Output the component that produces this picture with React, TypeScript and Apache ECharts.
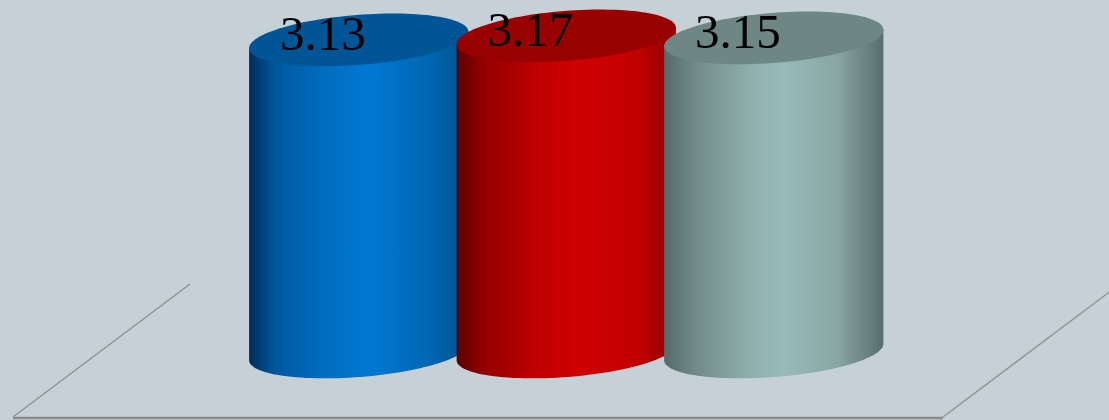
import React, { useEffect, useRef } from "react";
import * as echarts from "echarts";

const categories = ["A", "B", "C"];
const values = [3.13, 3.17, 3.15];
const sideStops = [
  [
    [0, "#002d58"],
    [0.12, "#0058a0"],
    [0.35, "#006ec0"],
    [0.55, "#0078d2"],
    [0.82, "#0067b2"],
    [1, "#00528c"],
  ],
  [
    [0, "#5c0000"],
    [0.12, "#940000"],
    [0.35, "#bc0000"],
    [0.55, "#d00000"],
    [0.82, "#c20000"],
    [1, "#8e0000"],
  ],
  [
    [0, "#556a69"],
    [0.15, "#728c8a"],
    [0.4, "#8fb0ae"],
    [0.55, "#98bbb9"],
    [0.8, "#86a4a2"],
    [1, "#586d6b"],
  ],
];
const topColors = ["#005596", "#990000", "#6c8784"];

const TILT = (4.5 * Math.PI) / 180;

function ellipsePt(cx: number, cy: number, rx: number, ry: number, t: number) {
  const x = rx * Math.cos(t);
  const y = ry * Math.sin(t);
  return [
    cx + x * Math.cos(TILT) + y * Math.sin(TILT),
    cy - x * Math.sin(TILT) + y * Math.cos(TILT),
  ];
}

export default function App() {
  const ref = useRef<HTMLDivElement>(null);
  useEffect(() => {
    if (!ref.current) return;
    const chart = echarts.init(ref.current, null, { renderer: "svg" });
    const option: any = {
      animation: false,
      backgroundColor: "#c6d1d7",
      grid: { left: 255, right: 231.5, top: 3, bottom: 68 },
      xAxis: { type: "category", data: categories, show: false },
      yAxis: { type: "value", min: 0, max: 3.5, show: false },
      graphic: [
        {
          type: "line",
          shape: { x1: 13, y1: 417, x2: 190, y2: 284 },
          style: { stroke: "#8e8e8e", lineWidth: 1.3 },
          z: 0,
        },
        {
          type: "line",
          shape: { x1: 943, y1: 417, x2: 1112, y2: 290 },
          style: { stroke: "#8e8e8e", lineWidth: 1.3 },
          z: 0,
        },
        {
          type: "line",
          shape: { x1: 13, y1: 418, x2: 943, y2: 418 },
          style: { stroke: "#8c8c8c", lineWidth: 2.5 },
          z: 0,
        },
      ],
      series: [
        {
          type: "custom",
          data: values.map((v, i) => [i, v]),
          renderItem: (params: any, api: any) => {
            const i = api.value(0);
            const v = api.value(1);
            const top = api.coord([i, v]);
            const base = api.coord([i, 0]);
            const band = api.size([1, 0])[0];
            const rx = band * 0.53;
            const ry = 25;
            const cx = top[0];
            const N = 60;
            const side: number[][] = [];
            side.push(ellipsePt(cx, top[1], rx, ry, Math.PI));
            for (let k = 0; k <= N; k++) {
              side.push(ellipsePt(cx, base[1], rx, ry, Math.PI - (k * Math.PI) / N));
            }
            side.push(ellipsePt(cx, top[1], rx, ry, 0));
            const topPts: number[][] = [];
            for (let k = 0; k < N * 2; k++) {
              topPts.push(ellipsePt(cx, top[1], rx, ry, (k * Math.PI) / N));
            }
            return {
              type: "group",
              children: [
                {
                  type: "polygon",
                  shape: { points: side },
                  style: {
                    fill: new echarts.graphic.LinearGradient(
                      0, 0, 1, 0,
                      sideStops[i].map((s) => ({ offset: s[0] as number, color: s[1] as string }))
                    ),
                  },
                },
                {
                  type: "polygon",
                  shape: { points: topPts },
                  style: { fill: topColors[i] },
                },
                {
                  type: "text",
                  x: cx - 36,
                  y: top[1] - 6,
                  style: {
                    text: String(v),
                    font: '49px "Liberation Serif", serif',
                    fill: "#000000",
                    align: "center",
                    verticalAlign: "middle",
                  },
                },
              ],
            };
          },
        },
      ],
    };
    chart.setOption(option);
    return () => chart.dispose();
  }, []);
  return (
    <div
      ref={ref}
      style={{ position: "fixed", left: 0, top: 0, width: 1109, height: 420 }}
    />
  );
}
